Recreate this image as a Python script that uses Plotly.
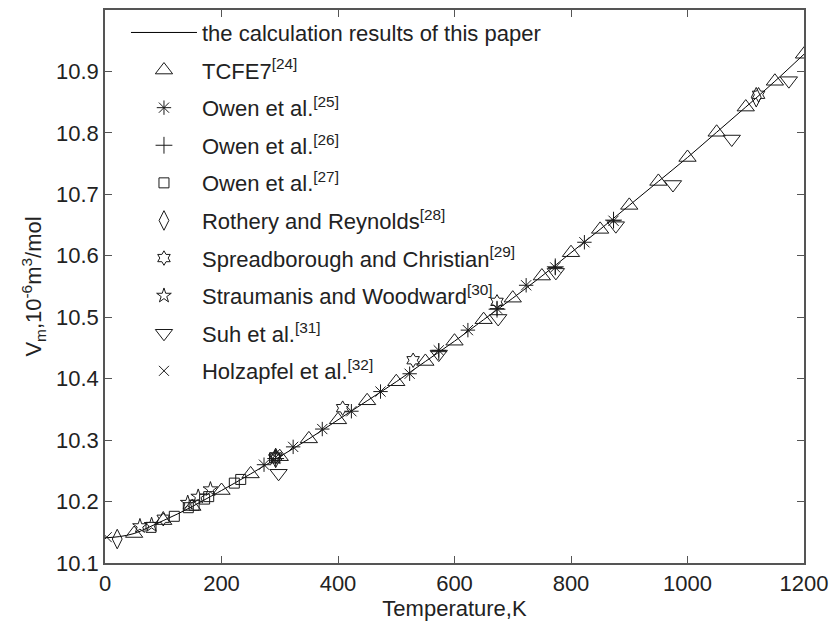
import plotly.graph_objects as go

# Calculated curve
curve_T = [0, 25, 50, 75, 100, 125, 150, 175, 200, 250, 300, 350, 400, 450, 500, 550, 600,
           650, 700, 750, 800, 850, 900, 950, 1000, 1050, 1100, 1150, 1200]
curve_V = [10.141, 10.143, 10.148, 10.158, 10.169, 10.180, 10.192, 10.205, 10.218, 10.245,
           10.273, 10.302, 10.333, 10.364, 10.395, 10.428, 10.461, 10.496, 10.531, 10.567,
           10.605, 10.643, 10.682, 10.721, 10.760, 10.801, 10.842, 10.884, 10.928]

tcfe7_T = [50, 100, 150, 200, 250, 300, 350, 400, 450, 500, 550, 600, 650, 700, 750, 800,
           850, 900, 950, 1000, 1050, 1100, 1150, 1200]
tcfe7_V = [10.148, 10.169, 10.192, 10.218, 10.245, 10.273, 10.302, 10.333, 10.364, 10.395,
           10.428, 10.461, 10.496, 10.531, 10.567, 10.605, 10.643, 10.682, 10.721, 10.760,
           10.801, 10.842, 10.884, 10.928]

owen25_T = [273, 323, 373, 423, 473, 523, 573, 623, 673, 723, 773, 823, 873]
owen25_V = [10.260, 10.289, 10.318, 10.347, 10.379, 10.408, 10.446, 10.479, 10.514, 10.552,
            10.581, 10.622, 10.657]

owen26_T = [293, 573, 673, 773, 873]
owen26_V = [10.270, 10.444, 10.513, 10.582, 10.658]

owen27_T = [79, 119, 143, 153, 171, 178, 222, 233, 291]
owen27_V = [10.158, 10.176, 10.190, 10.194, 10.204, 10.208, 10.230, 10.236, 10.271]

rothery_T = [21, 293, 1118]
rothery_V = [10.139, 10.271, 10.858]

spread_T = [100, 293, 408, 529, 673, 1122]
spread_V = [10.172, 10.273, 10.352, 10.430, 10.525, 10.862]

strau_T = [60, 80, 142, 160, 181, 293]
strau_V = [10.160, 10.162, 10.198, 10.208, 10.220, 10.272]

suh_T = [298, 573, 675, 774, 877, 975, 1076, 1174]
suh_V = [10.246, 10.440, 10.498, 10.573, 10.649, 10.716, 10.790, 10.885]

holz_T = [3, 293]
holz_V = [10.142, 10.272]

FONT = "Liberation Sans, Arial, sans-serif"
FS = 22
MK = "#1a1a1a"

fig = go.Figure()
fig.add_trace(go.Scatter(x=curve_T, y=curve_V, mode="lines", line=dict(color="black", width=1, shape="spline"),
                         name="the calculation results of this paper", legendgroup="a"))

series = [
    (tcfe7_T, tcfe7_V, "triangle-up-open", 15, "TCFE7<sup>[24]</sup>"),
    (owen25_T, owen25_V, "asterisk-open", 12, "Owen et al.<sup>[25]</sup>"),
    (owen26_T, owen26_V, "cross-thin-open", 12, "Owen et al.<sup>[26]</sup>"),
    (owen27_T, owen27_V, "square-open", 10, "Owen et al.<sup>[27]</sup>"),
    (rothery_T, rothery_V, "diamond-tall-open", 14, "Rothery and Reynolds<sup>[28]</sup>"),
    (spread_T, spread_V, "hexagram-open", 11, "Spreadborough and Christian<sup>[29]</sup>"),
    (strau_T, strau_V, "star-open", 11, "Straumanis and Woodward<sup>[30]</sup>"),
    (suh_T, suh_V, "triangle-down-open", 15, "Suh et al.<sup>[31]</sup>"),
    (holz_T, holz_V, "x-thin-open", 10, "Holzapfel et al.<sup>[32]</sup>"),
]
for i, (xs, ys, sym, sz, nm) in enumerate(series):
    fig.add_trace(go.Scatter(x=xs, y=ys, mode="markers", name=nm, legendgroup="g%d" % i,
                             marker=dict(symbol=sym, size=sz, color=MK, line=dict(color=MK, width=1))))

axis_common = dict(showline=True, linecolor="#555555", linewidth=1.5, mirror="ticks", ticks="inside",
                   ticklen=7, tickcolor="#555555", tickwidth=1.2, showgrid=False, zeroline=False,
                   tickfont=dict(family=FONT, size=FS, color="#222222"))

fig.update_layout(
    width=836, height=626,
    margin=dict(l=105, r=26, t=8, b=63),
    paper_bgcolor="white", plot_bgcolor="white",
    font=dict(family=FONT, size=FS, color="#222222"),
    xaxis=dict(range=[0, 1200], tickvals=[0, 200, 400, 600, 800, 1000, 1200],
               title=dict(text="Temperature,K", font=dict(family=FONT, size=FS), standoff=2), **axis_common),
    yaxis=dict(range=[10.1, 11.0], tickvals=[10.1, 10.2, 10.3, 10.4, 10.5, 10.6, 10.7, 10.8, 10.9],
               ticktext=["10.1", "10.2", "10.3", "10.4", "10.5", "10.6", "10.7", "10.8", "10.9"],
               title=dict(text="V<sub>m</sub>,10<sup>-6</sup>m<sup>3</sup>/mol", font=dict(family=FONT, size=FS), standoff=8),
               **axis_common),
    legend=dict(x=0.03, y=0.997, xanchor="left", yanchor="top", bgcolor="rgba(0,0,0,0)",
                font=dict(family=FONT, size=FS, color="#222222"), itemwidth=66, tracegroupgap=6),
    showlegend=True,
)

fig.write_html("out.html")
